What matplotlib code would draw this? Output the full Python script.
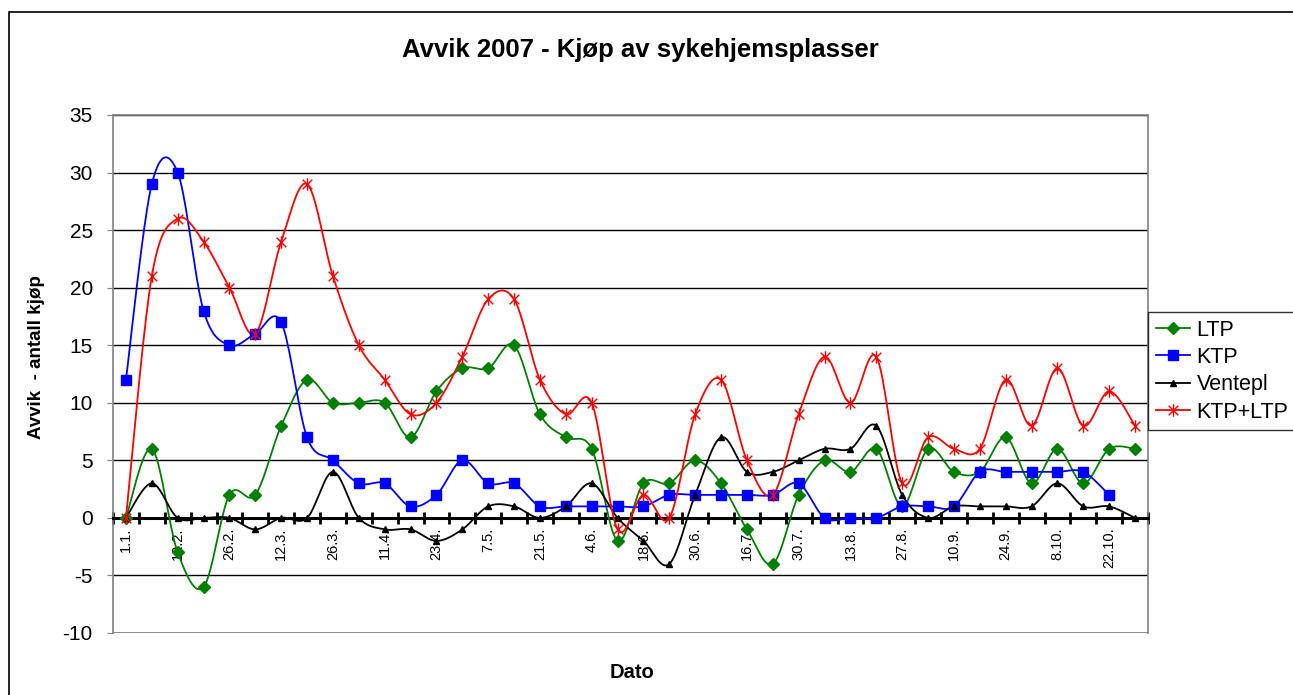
import numpy as np
import matplotlib
matplotlib.use("Agg")
import matplotlib.pyplot as plt
from matplotlib.path import Path
from matplotlib.patches import Rectangle

plt.rcParams['font.family'] = ['Liberation Sans', 'DejaVu Sans']
plt.rcParams['axes.unicode_minus'] = False

# 40 categories, only every other one labelled in the original
date_labels = ['1.1.', '12.2.', '26.2.', '12.3.', '26.3.', '11.4.', '23.4.', '7.5.', '21.5.', '4.6.',
               '18.6.', '30.6.', '16.7.', '30.7.', '13.8.', '27.8.', '10.9.', '24.9.', '8.10.', '22.10.']
n_points = 40

ltp = [0, 6, -3, -6, 2, 2, 8, 12, 10, 10, 10, 7, 11, 13, 13, 15, 9, 7, 6, -2,
       3, 3, 5, 3, -1, -4, 2, 5, 4, 6, 1, 6, 4, 4, 7, 3, 6, 3, 6, 6]
ktp = [12, 29, 30, 18, 15, 16, 17, 7, 5, 3, 3, 1, 2, 5, 3, 3, 1, 1, 1, 1,
       1, 2, 2, 2, 2, 2, 3, 0, 0, 0, 1, 1, 1, 4, 4, 4, 4, 4, 2, np.nan]
ventepl = [0, 3, 0, 0, 0, -1, 0, 0, 4, 0, -1, -1, -2, -1, 1, 1, 0, 1, 3, 0,
           -2, -4, 2, 7, 4, 4, 5, 6, 6, 8, 2, 0, 1, 1, 1, 1, 3, 1, 1, 0]
ktp_ltp = [0, 21, 26, 24, 20, 16, 24, 29, 21, 15, 12, 9, 10, 14, 19, 19, 12, 9, 10, -1,
           2, 0, 9, 12, 5, 2, 9, 14, 10, 14, 3, 7, 6, 6, 12, 8, 13, 8, 11, 8]


def smooth(x, y, steps=20):
    # Excel style smoothed line (cubic bezier, catmull-rom control points)
    x = np.asarray(x, float)
    y = np.asarray(y, float)
    ok = ~np.isnan(y)
    x, y = x[ok], y[ok]
    px = np.concatenate([[x[0]], x, [x[-1]]])
    py = np.concatenate([[y[0]], y, [y[-1]]])
    t = np.linspace(0, 1, steps)[:, None]
    xs, ys = [], []
    for i in range(1, len(px) - 2):
        p0 = np.array([px[i - 1], py[i - 1]])
        p1 = np.array([px[i], py[i]])
        p2 = np.array([px[i + 1], py[i + 1]])
        p3 = np.array([px[i + 2], py[i + 2]])
        c1 = p1 + (p2 - p0) / 6
        c2 = p2 - (p3 - p1) / 6
        b = ((1 - t) ** 3) * p1 + 3 * ((1 - t) ** 2) * t * c1 + 3 * (1 - t) * t ** 2 * c2 + t ** 3 * p2
        xs.append(b[:, 0])
        ys.append(b[:, 1])
    return np.concatenate(xs), np.concatenate(ys)


# excel "star" marker: an x with a vertical bar
star = Path([(-1, -1), (1, 1), (-1, 1), (1, -1), (0, -1.3), (0, 1.3)],
            [Path.MOVETO, Path.LINETO, Path.MOVETO, Path.LINETO, Path.MOVETO, Path.LINETO])

W, H = 1293, 695
fig = plt.figure(figsize=(W / 100, H / 100), dpi=100, facecolor='white')
ax = fig.add_axes([113 / W, 1 - 633 / H, (1148 - 113) / W, (633 - 115) / H])

x = np.arange(n_points)
series = [
    ('LTP', ltp, '#008000', dict(marker='D', ms=6, mfc='#008000', mec='#008000')),
    ('KTP', ktp, '#0000FF', dict(marker='s', ms=7, mfc='#0000FF', mec='#0000FF')),
    ('Ventepl', ventepl, 'black', dict(marker='^', ms=5, mfc='black', mec='black')),
    ('KTP+LTP', ktp_ltp, '#FF0000', dict(marker=star, ms=9, mfc='none', mec='#FF0000', mew=1)),
]
handles = []
for name, vals, col, mk in series:
    sx, sy = smooth(x, vals)
    ax.plot(sx, sy, color=col, lw=1.3, zorder=3)
    ax.plot(x, vals, ls='none', zorder=4, **mk)
    h, = ax.plot([], [], color=col, lw=1.3, label=name, **mk)
    handles.append(h)

ax.set_xlim(-0.5, n_points - 0.5)
ax.set_ylim(-10, 35)
ax.set_yticks(np.arange(-10, 36, 5))
ax.tick_params(axis='y', labelsize=15, direction='out', length=4.5, color='#808080', pad=10)
ax.yaxis.grid(True, color='black', lw=1)
ax.set_axisbelow(True)
ax.axhline(-10, color='#808080', lw=1.2, zorder=2)

for s in ['left', 'top', 'right']:
    ax.spines[s].set_color('#808080')
    ax.spines[s].set_linewidth(1.2)
ax.spines['bottom'].set_position(('data', 0))
ax.spines['bottom'].set_color('black')
ax.spines['bottom'].set_linewidth(2.2)
ax.spines['bottom'].set_zorder(2.6)

ax.set_xticks(x[::2])
ax.set_xticklabels(date_labels, rotation=90, fontsize=10.5, va='top')
ax.set_xticks(np.arange(n_points + 1) - 0.5, minor=True)
ax.tick_params(axis='x', which='major', length=0, pad=7)
ax.tick_params(axis='x', which='minor', direction='inout', length=8, width=2, color='black')

fig.text(640 / W, 1 - 50 / H, 'Avvik 2007 - Kjøp av sykehjemsplasser',
         ha='center', va='center', fontsize=18.5, fontweight='bold')
fig.text(37 / W, 1 - 357 / H, 'Avvik  - antall kjøp', rotation=90,
         ha='center', va='center', fontsize=13.5, fontweight='bold')
fig.text(632 / W, 1 - 673 / H, 'Dato', ha='center', va='center', fontsize=14.5, fontweight='bold')

leg = fig.legend(handles=handles, loc='upper left', bbox_to_anchor=(1148 / W, 1 - 312 / H),
                 fontsize=15.5, frameon=True, fancybox=False, edgecolor='black',
                 handlelength=1.6, handletextpad=0.3, labelspacing=0.3, borderpad=0.35,
                 borderaxespad=0)
leg.get_frame().set_linewidth(1)

fig.patches.append(Rectangle((9 / W, -0.2), 1.5, 1 - 12 / H + 0.2, transform=fig.transFigure,
                             fill=False, ec='black', lw=1.2))

fig.savefig('out.png', dpi=100)
